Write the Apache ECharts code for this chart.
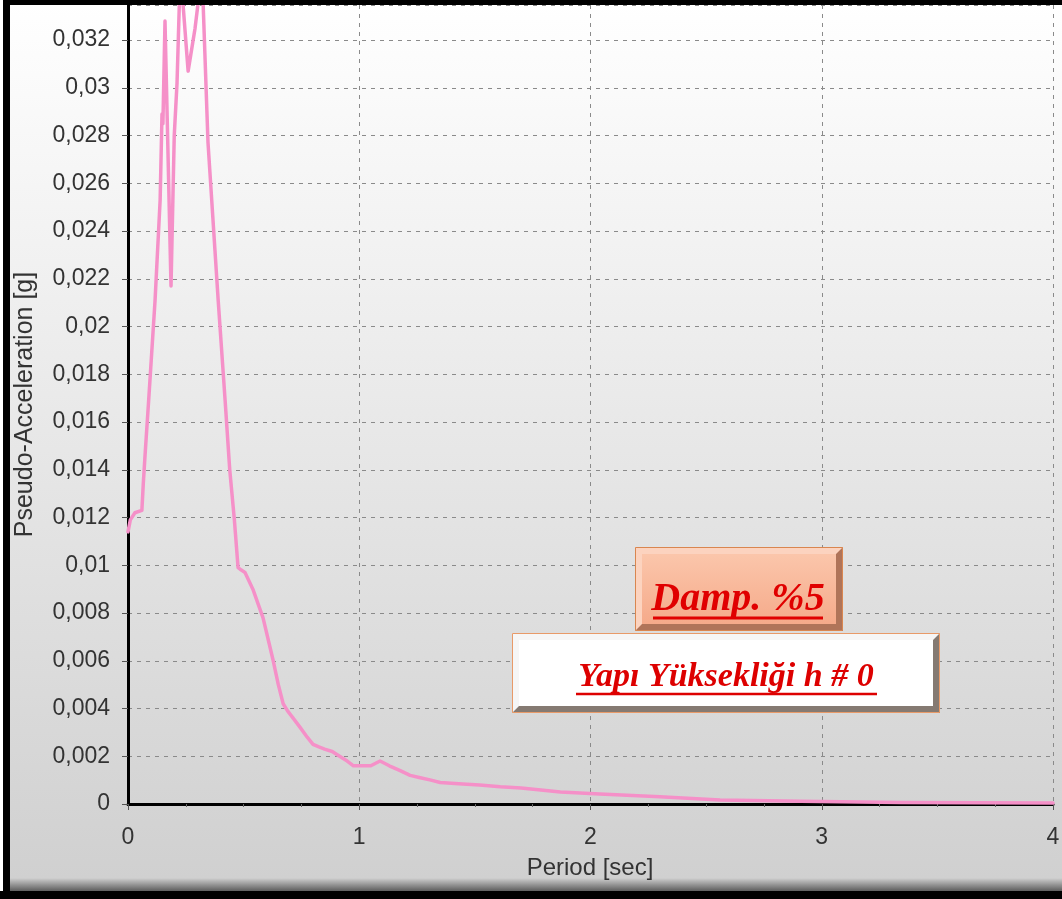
<!DOCTYPE html>
<html>
<head>
<meta charset="utf-8">
<script src="https://cdn.jsdelivr.net/npm/echarts@6/dist/echarts.min.js"></script>
<style>
html,body{margin:0;padding:0;}
#chart{width:1062px;height:899px;}
</style>
</head>
<body>
<div id="chart"></div>
<script>
// Period [sec]
var periods = [0, 0.01, 0.03, 0.06, 0.066, 0.075, 0.09, 0.117, 0.139, 0.147, 0.151, 0.16, 0.186, 0.2, 0.212, 0.225, 0.238, 0.26, 0.29, 0.315, 0.325, 0.346, 0.39, 0.42, 0.44, 0.46, 0.476, 0.49, 0.506, 0.54, 0.584, 0.628, 0.65, 0.671, 0.69, 0.714, 0.745, 0.775, 0.8, 0.823, 0.85, 0.883, 0.915, 0.948, 0.975, 1.004, 1.05, 1.09, 1.13, 1.177, 1.22, 1.264, 1.31, 1.35, 1.43, 1.52, 1.61, 1.70, 1.87, 2.04, 2.30, 2.56, 2.91, 3.34, 4.0];
// Pseudo-Acceleration [g]
var accel = [0.0114, 0.0119, 0.0122, 0.0123, 0.0134, 0.0148, 0.0170, 0.0211, 0.0253, 0.0289, 0.0285, 0.0328, 0.0217, 0.0280, 0.0302, 0.0345, 0.0335, 0.0307, 0.0325, 0.0345, 0.0335, 0.0277, 0.0211, 0.0169, 0.0140, 0.0119, 0.0099, 0.0098, 0.0097, 0.0090, 0.0078, 0.0060, 0.0050, 0.0042, 0.0039, 0.0036, 0.0032, 0.0028, 0.0025, 0.0024, 0.0023, 0.0022, 0.0020, 0.0018, 0.0016, 0.0016, 0.0016, 0.0018, 0.0016, 0.0014, 0.0012, 0.0011, 0.0010, 0.0009, 0.00085, 0.0008, 0.00072, 0.00067, 0.0005, 0.00042, 0.0003, 0.00017, 0.00012, 0.00006, 0.00004];
var xTicks = [0, 1, 2, 3, 4];
var xName = 'Period [sec]';
var yName = 'Pseudo-Acceleration [g]';
var dampText = 'Damp. %5';
var heightText = 'Yapı Yüksekliği h # 0';

var seriesData = periods.map(function (p, i) { return [p, accel[i]]; });

function bevelBox(x, y, w, h, b, dark, light, face, outline) {
  return {
    type: 'group',
    children: [
      { type: 'rect', shape: { x: x, y: y, width: w, height: h }, style: { fill: dark } },
      { type: 'polygon', shape: { points: [[x, y], [x + w, y], [x + w - b, y + b], [x + b, y + b], [x + b, y + h - b], [x, y + h]] }, style: { fill: light } },
      { type: 'rect', shape: { x: x + b, y: y + b, width: w - 2 * b, height: h - 2 * b }, style: { fill: face } },
      { type: 'rect', shape: { x: x + 0.5, y: y + 0.5, width: w - 1, height: h - 1 }, style: { fill: 'none', stroke: outline, lineWidth: 1 } }
    ]
  };
}

var chart = echarts.init(document.getElementById('chart'));
var graphics = [
  // x axis title
  { type: 'text', z: 50, style: { text: xName, x: 590, y: 868, font: '24px "Liberation Sans"', fill: '#333', align: 'center', verticalAlign: 'middle' } },
  // frame
  { type: 'rect', shape: { x: 0, y: 0, width: 1062, height: 5 }, style: { fill: '#000' }, z: 100 },
  { type: 'rect', shape: { x: 0, y: 0, width: 3, height: 899 }, style: { fill: '#fff' }, z: 100 },
  { type: 'rect', shape: { x: 3, y: 0, width: 7, height: 899 }, style: { fill: '#000' }, z: 100 },
  { type: 'rect', shape: { x: 10, y: 878, width: 1052, height: 13 },
    style: { fill: new echarts.graphic.LinearGradient(0, 0, 0, 1, [{ offset: 0, color: 'rgba(0,0,0,0)' }, { offset: 1, color: 'rgba(0,0,0,0.55)' }]) }, z: 100 },
  { type: 'rect', shape: { x: 0, y: 891, width: 1062, height: 8 }, style: { fill: '#000' }, z: 100 },
  // Damp box
  Object.assign(bevelBox(635, 547, 208, 84, 7, '#b07459',
    '#fcd3bf',
    new echarts.graphic.LinearGradient(0, 0, 0, 1, [{ offset: 0, color: '#fbc6ab' }, { offset: 1, color: '#f5aa8a' }]),
    '#d98650'), { z: 110 }),
  { type: 'text', z: 120, style: { text: dampText, x: 738, y: 600, font: 'italic bold 40px "Liberation Serif"', fill: '#e00000', align: 'center', verticalAlign: 'middle' } },
  { type: 'line', z: 120, shape: { x1: 653, y1: 618, x2: 823, y2: 618 }, style: { stroke: '#e00000', lineWidth: 3 } },
  // Height box
  Object.assign(bevelBox(512, 633, 428, 80, 7, '#857a72',
    '#f6f6f6',
    '#ffffff',
    '#e89a68'), { z: 110 }),
  { type: 'text', z: 120, style: { text: heightText, x: 726, y: 677, font: 'italic bold 34px "Liberation Serif"', fill: '#dd0000', align: 'center', verticalAlign: 'middle' } },
  { type: 'line', z: 120, shape: { x1: 576, y1: 694, x2: 877, y2: 694 }, style: { stroke: '#dd0000', lineWidth: 2.5 } }
];

var option = {
  animation: false,
  backgroundColor: new echarts.graphic.LinearGradient(0, 0, 0, 1, [
    { offset: 0, color: '#ffffff' },
    { offset: 1, color: '#cfcfcf' }
  ]),
  grid: { left: 128, top: 5, right: 9, bottom: 95, containLabel: false },
  xAxis: {
    type: 'value',
    min: 0, max: 4, interval: 1,
    axisLine: { show: true, onZero: false, lineStyle: { color: '#000', width: 3 } },
    axisTick: { show: true, length: 6, lineStyle: { color: '#555' } },
    minorTick: { show: true, splitNumber: 4, length: 3, lineStyle: { color: '#666' } },
    axisLabel: { show: false },
    splitLine: { show: true, lineStyle: { color: '#8a8a8a', type: [4, 5], width: 1 } }
  },
  yAxis: {
    type: 'value',
    min: 0, max: 0.03347, interval: 0.002,
    name: yName,
    nameLocation: 'middle',
    nameGap: 90,
    nameTextStyle: { fontFamily: 'Liberation Sans', fontSize: 25, color: '#333' },
    axisLine: { show: true, lineStyle: { color: '#000', width: 3 } },
    axisTick: { show: true, length: 6, lineStyle: { color: '#555' } },
    axisLabel: { fontFamily: 'Liberation Sans', fontSize: 23, color: '#333', margin: 18, showMaxLabel: false,
      formatter: function (v) { return String(+v.toFixed(4)).replace('.', ','); } },
    splitLine: { show: true, lineStyle: { color: '#8a8a8a', type: [4, 5], width: 1 } }
  },
  series: [{
    type: 'line',
    data: seriesData,
    showSymbol: false,
    clip: true,
    lineStyle: { color: '#f590c8', width: 3.5, join: 'round', cap: 'round' },
    z: 3
  }],
  graphic: graphics
};
chart.setOption(option);

// x tick labels placed through the x axis scale
var tickLabels = xTicks.map(function (v) {
  var px = chart.convertToPixel({ xAxisIndex: 0 }, v);
  return { type: 'text', z: 50, style: { text: String(v), x: px, y: 838, font: '23px "Liberation Sans"', fill: '#333', align: 'center', verticalAlign: 'middle' } };
});
chart.setOption({ graphic: graphics.concat(tickLabels) }, { replaceMerge: ['graphic'] });
</script>
</body>
</html>
